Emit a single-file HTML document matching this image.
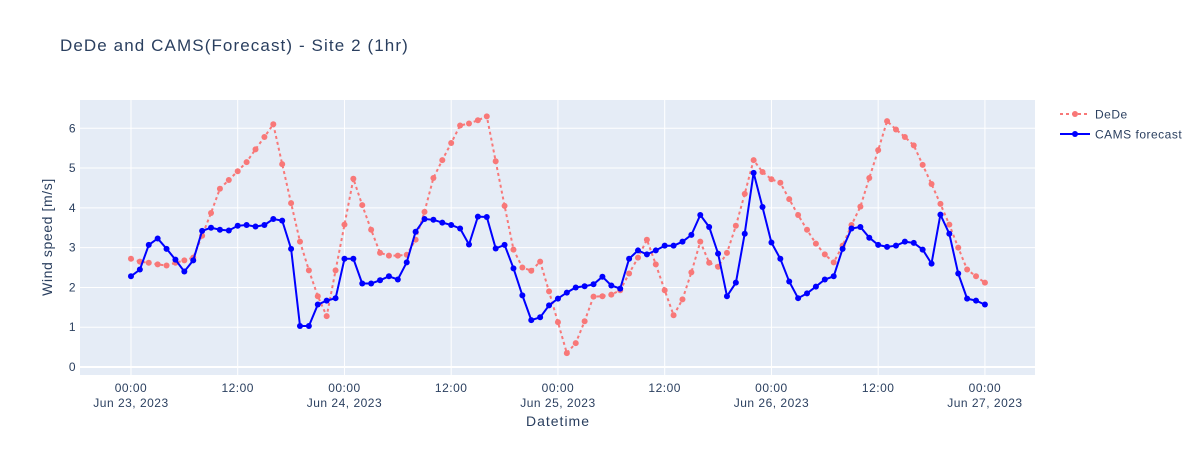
<!DOCTYPE html>
<html><head><meta charset="utf-8"><style>
body{margin:0;background:#fff;font-family:"Liberation Sans",sans-serif;}
svg text{font-family:"Liberation Sans",sans-serif;fill:#2a3f5f;letter-spacing:0.5px;}
</style></head><body>
<svg id="chart" width="1200" height="450">
<rect x="0" y="0" width="1200" height="450" fill="#fff"/>
<text x="60" y="51" font-size="17" style="letter-spacing:1.1px">DeDe and CAMS(Forecast) - Site 2 (1hr)</text>
<rect x="80" y="100" width="955" height="275" fill="#e5ecf6"/>
<g id="grid"></g><g id="series"></g><g id="axes"></g>
<text x="558" y="426" font-size="14" text-anchor="middle" style="letter-spacing:1px">Datetime</text>
<text transform="translate(52,237) rotate(-90)" font-size="14" text-anchor="middle" style="letter-spacing:0.6px">Wind speed [m/s]</text>
<g>
<g>
<line x1="1060" y1="114" x2="1090" y2="114" stroke="#f87878" stroke-width="2" stroke-dasharray="3,3"/>
<circle cx="1075" cy="114" r="3" fill="#f87878"/>
<text x="1095" y="118.5" font-size="12">DeDe</text></g>
<g>
<line x1="1060" y1="134" x2="1090" y2="134" stroke="#0000ff" stroke-width="2"/>
<circle cx="1075" cy="134" r="3" fill="#0000ff"/>
<text x="1095" y="138.5" font-size="12">CAMS forecast</text></g>
</g>
</svg>
<script>
const hours = Array.from({length:97},(_,i)=>i);
const dedeValues = [2.72,2.65,2.62,2.58,2.55,2.62,2.68,2.75,3.3,3.87,4.48,4.7,4.92,5.15,5.47,5.78,6.1,5.1,4.12,3.15,2.43,1.78,1.28,2.43,3.58,4.73,4.07,3.45,2.87,2.8,2.8,2.82,3.2,3.9,4.75,5.2,5.63,6.07,6.12,6.2,6.3,5.17,4.05,2.95,2.5,2.42,2.65,1.9,1.13,0.35,0.6,1.15,1.77,1.78,1.82,1.93,2.35,2.75,3.2,2.58,1.93,1.3,1.7,2.38,3.15,2.62,2.52,2.87,3.55,4.35,5.2,4.9,4.72,4.63,4.22,3.82,3.45,3.1,2.83,2.63,3.05,3.57,4.03,4.75,5.45,6.18,5.97,5.78,5.57,5.08,4.6,4.1,3.58,3.0,2.45,2.28,2.12];
const camsValues = [2.28,2.45,3.07,3.23,2.97,2.7,2.4,2.68,3.42,3.5,3.45,3.43,3.55,3.57,3.53,3.57,3.72,3.68,2.97,1.03,1.03,1.57,1.67,1.73,2.72,2.72,2.1,2.1,2.18,2.28,2.2,2.63,3.4,3.72,3.7,3.63,3.57,3.48,3.08,3.78,3.77,2.98,3.07,2.48,1.8,1.18,1.25,1.55,1.72,1.87,2.0,2.03,2.08,2.27,2.05,1.97,2.72,2.93,2.83,2.93,3.05,3.05,3.15,3.32,3.82,3.52,2.85,1.78,2.12,3.35,4.88,4.02,3.13,2.72,2.15,1.73,1.85,2.02,2.2,2.28,2.97,3.48,3.52,3.25,3.07,3.02,3.05,3.15,3.12,2.95,2.6,3.83,3.35,2.35,1.72,1.67,1.57];
const yTicks = [0,1,2,3,4,5,6];
const xTickHours = [0,12,24,36,48,60,72,84,96];
const xTickLabels = [["00:00","Jun 23, 2023"],["12:00",""],["00:00","Jun 24, 2023"],["12:00",""],["00:00","Jun 25, 2023"],["12:00",""],["00:00","Jun 26, 2023"],["12:00",""],["00:00","Jun 27, 2023"]];

const NS="http://www.w3.org/2000/svg";
const X0=80,X1=1035,Y0=100,Y1=375;
const xMin=-5.73,xMax=101.63,yMin=-0.2,yMax=6.71;
const xs=h=>X0+(h-xMin)/(xMax-xMin)*(X1-X0);
const ys=v=>Y1-(v-yMin)/(yMax-yMin)*(Y1-Y0);
function mk(tag,attrs,parent){const e=document.createElementNS(NS,tag);for(const k in attrs)e.setAttribute(k,attrs[k]);parent.appendChild(e);return e;}
const grid=document.getElementById('grid'),axes=document.getElementById('axes'),ser=document.getElementById('series');
yTicks.forEach(t=>{
  const l=mk('line',{x1:X0,x2:X1,y1:ys(t),y2:ys(t),stroke:'#fff','stroke-width':t===0?2:1},grid);
  
  
  const tx=mk('text',{x:X0-4,y:ys(t)+4,'font-size':12,'text-anchor':'end'},axes);
  tx.textContent=t;
  
  
});
xTickHours.forEach((h,i)=>{
  const l=mk('line',{x1:xs(h),x2:xs(h),y1:Y0,y2:Y1,stroke:'#fff','stroke-width':1},grid);
  
  
  xTickLabels[i].forEach((s,j)=>{ if(!s)return;
    const tx=mk('text',{x:xs(h),y:392+j*15,'font-size':12,'text-anchor':'middle'},axes);
    tx.textContent=s;
    
    
  });
});
function drawSeries(vals,color,dash,name){
  const g=mk('g',{},ser);
  
  
  const pts=vals.map((v,i)=>xs(hours[i]).toFixed(1)+','+ys(v).toFixed(1)).join(' ');
  const pl=mk('polyline',{points:pts,fill:'none',stroke:color,'stroke-width':2},g);
  if(dash)pl.setAttribute('stroke-dasharray',dash);
  
  
  vals.forEach((v,i)=>{
    const c=mk('circle',{cx:xs(hours[i]),cy:ys(v),r:3,fill:color},g);
    
    
  });
}
drawSeries(dedeValues,'#f87878','3,3','dede-series');
drawSeries(camsValues,'#0000ff',null,'cams-series');
</script>
</body></html>
